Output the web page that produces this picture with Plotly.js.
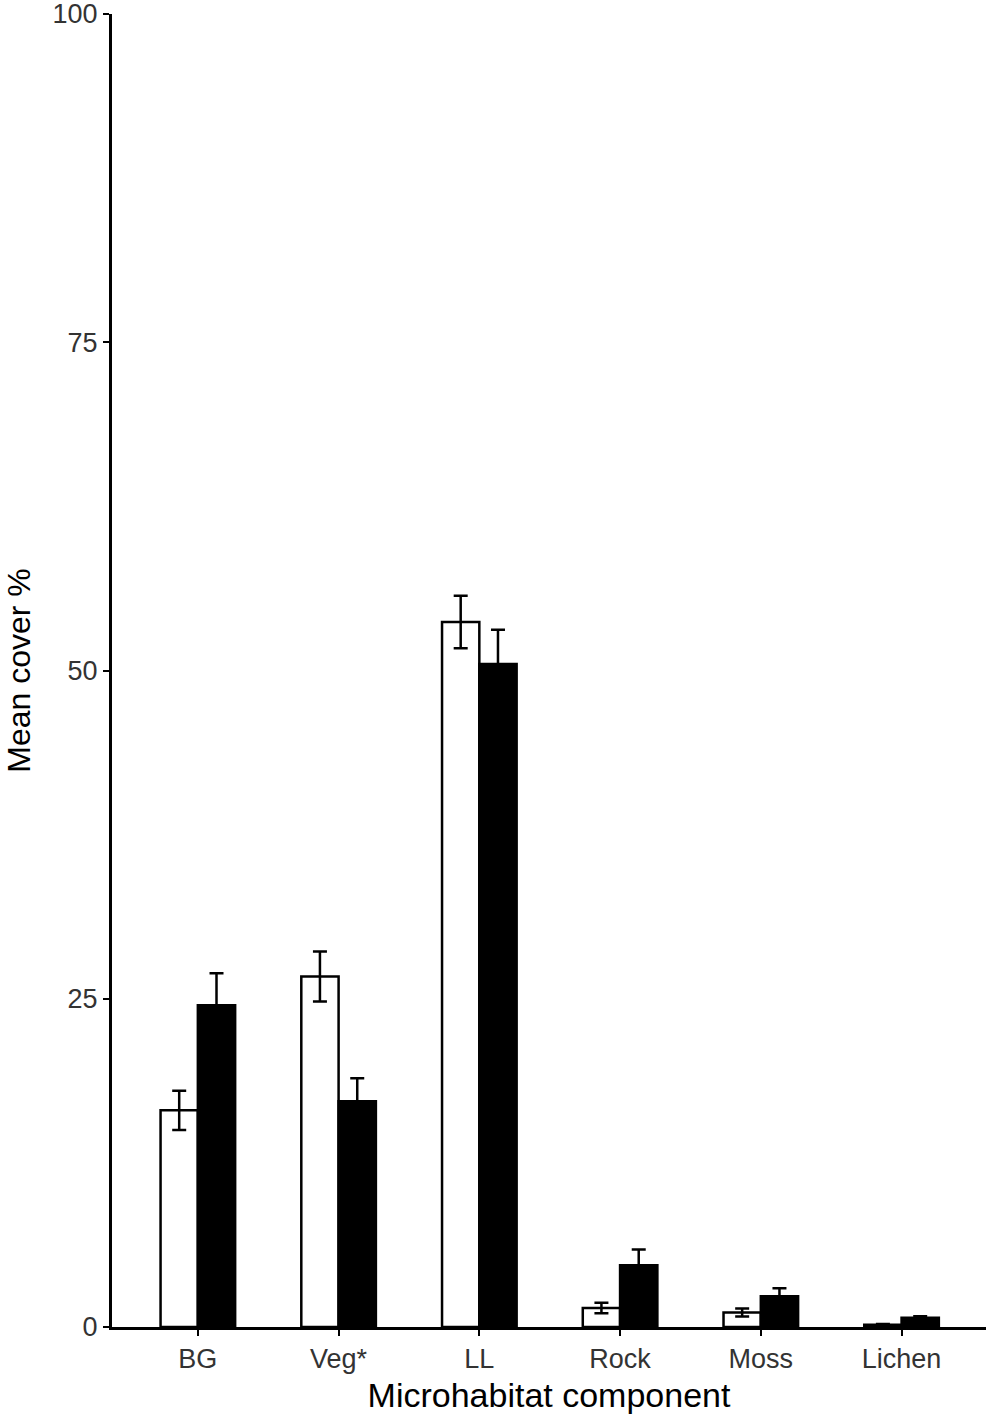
<!DOCTYPE html>
<html>
<head>
<meta charset="utf-8">
<script src="https://cdn.plot.ly/plotly-3.0.1.min.js"></script>
<style>
  html, body { margin: 0; padding: 0; background: #fff; }
  #chart { width: 992px; height: 1422px; }
</style>
</head>
<body>
<div id="chart"></div>
<script>
const categories = ["BG", "Veg*", "LL", "Rock", "Moss", "Lichen"];
const openMeans = [16.5, 26.7, 53.7, 1.45, 1.1, 0.18];
const openErr = [1.5, 1.9, 2.0, 0.4, 0.3, 0.05];
const filledMeans = [24.5, 17.2, 50.5, 4.7, 2.35, 0.7];
const filledErr = [2.45, 1.75, 2.6, 1.2, 0.6, 0.12];
const yTicks = [0, 25, 50, 75, 100];

const errStyle = { type: "data", visible: true, color: "#000", thickness: 2.5, width: 7 };

const traces = [
  {
    type: "bar",
    x: categories,
    y: openMeans,
    error_y: { ...errStyle, array: openErr },
    marker: { color: "#fff", line: { color: "#000", width: 2.5 } },
    hoverinfo: "skip",
  },
  {
    type: "bar",
    x: categories,
    y: filledMeans,
    error_y: { ...errStyle, array: filledErr },
    marker: { color: "#000", line: { color: "#000", width: 2.5 } },
    hoverinfo: "skip",
  },
];

const layout = {
  width: 992,
  height: 1422,
  margin: { l: 112, r: 6, t: 14, b: 95 },
  paper_bgcolor: "#fff",
  plot_bgcolor: "#fff",
  showlegend: false,
  barmode: "group",
  bargap: 0.47,
  bargroupgap: 0,
  font: { family: "Liberation Sans, Arial, sans-serif", color: "#000" },
  xaxis: {
    type: "category",
    range: [-0.61, 5.6],
    showline: true,
    linecolor: "#000",
    linewidth: 3,
    ticks: "outside",
    ticklen: 6,
    tickwidth: 2,
    tickcolor: "#000",
    showgrid: false,
    zeroline: false,
    tickfont: { size: 27, color: "#333" },
    title: { text: "Microhabitat component", font: { size: 34, color: "#000" }, standoff: 10 },
  },
  yaxis: {
    range: [0, 100],
    tickvals: yTicks,
    ticktext: yTicks.map(String),
    ticklabeloverflow: "allow",
    showline: true,
    linecolor: "#000",
    linewidth: 3,
    ticks: "outside",
    ticklen: 6,
    tickwidth: 2,
    tickcolor: "#000",
    showgrid: false,
    zeroline: false,
    tickfont: { size: 27, color: "#333" },
    title: { text: "Mean cover %", font: { size: 32, color: "#000" }, standoff: 13 },
  },
};

Plotly.newPlot("chart", traces, layout, { displayModeBar: false, staticPlot: true });
</script>
</body>
</html>
